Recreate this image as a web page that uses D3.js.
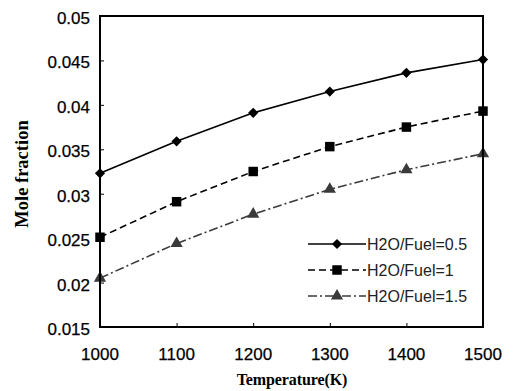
<!DOCTYPE html>
<html>
<head>
<meta charset="utf-8">
<script src="https://cdn.jsdelivr.net/npm/d3@7"></script>
<style>
  body { margin: 0; background: #fff; }
  svg { display: block; }
  .tick-label { font-family: "Liberation Sans", Arial, sans-serif; font-size: 17px; fill: #000; stroke: #000; stroke-width: 0.25px; }
  .legend-text { font-family: "Liberation Sans", Arial, sans-serif; font-size: 16px; fill: #222; }
  .axis-title { font-family: "Liberation Serif", "Times New Roman", serif; font-weight: bold; fill: #000; }
</style>
</head>
<body>
<div id="chart"></div>
<script>
const temperatures = [1000, 1100, 1200, 1300, 1400, 1500];
const ratio05 = [0.0323, 0.0359, 0.0391, 0.0415, 0.0436, 0.0451];
const ratio1 = [0.0251, 0.0291, 0.0325, 0.0353, 0.0375, 0.0393];
const ratio15 = [0.0205, 0.0244, 0.0277, 0.0305, 0.0327, 0.0345];
const seriesNames = ["H2O/Fuel=0.5", "H2O/Fuel=1", "H2O/Fuel=1.5"];
const yTicks = [0.015, 0.02, 0.025, 0.03, 0.035, 0.04, 0.045, 0.05];
const xTicks = [1000, 1100, 1200, 1300, 1400, 1500];

const width = 517;
const height = 391;
const margin = { top: 16, right: 34, bottom: 64, left: 100 };

// diamond = square turned 45 degrees
const series = [
  { name: seriesNames[0], values: ratio05, symbol: d3.symbolSquare, size: 52, rotate: 45, color: "#000", dash: null },
  { name: seriesNames[1], values: ratio1, symbol: d3.symbolSquare, size: 90, rotate: 0, color: "#000", dash: "7,4" },
  { name: seriesNames[2], values: ratio15, symbol: d3.symbolTriangle, size: 65, rotate: 0, color: "#3a3a3a", dash: "9,3,2,3" },
];

const x = d3.scaleLinear()
  .domain([1000, 1500])
  .range([margin.left, width - margin.right]);
const y = d3.scaleLinear()
  .domain([0.015, 0.05])
  .range([height - margin.bottom, margin.top]);

const svg = d3.select("#chart")
  .append("svg")
  .attr("width", width)
  .attr("height", height);

// series lines + markers
const line = d3.line()
  .x((d, i) => x(temperatures[i]))
  .y((d) => y(d));

const seriesG = svg.selectAll(".series")
  .data(series)
  .join("g")
  .attr("class", "series");

seriesG.append("path")
  .attr("fill", "none")
  .attr("stroke", (d) => d.color)
  .attr("stroke-width", 1.6)
  .attr("stroke-dasharray", (d) => d.dash)
  .attr("d", (d) => line(d.values));

seriesG.selectAll(".marker")
  .data((d) => d.values.map((v, i) => ({ v, i, s: d })))
  .join("path")
  .attr("class", "marker")
  .attr("fill", (d) => d.s.color)
  .attr("transform", (d) => `translate(${x(temperatures[d.i])},${y(d.v)}) rotate(${d.s.rotate})`)
  .attr("d", (d) => d3.symbol(d.s.symbol, d.s.size)());

// y axis (ticks inside)
svg.append("g")
  .attr("transform", `translate(${margin.left},0)`)
  .call(d3.axisRight(y).tickValues(yTicks).tickSize(4).tickFormat(""))
  .call((g) => g.select(".domain").remove())
  .call((g) => g.selectAll("line").attr("stroke", "#000").attr("stroke-width", 1));

svg.append("g")
  .selectAll("text")
  .data(yTicks)
  .join("text")
  .attr("class", "tick-label")
  .attr("x", margin.left - 10)
  .attr("y", (d) => y(d) + 2)
  .attr("dy", "0.35em")
  .attr("text-anchor", "end")
  .text((d) => d3.format("")(+d.toFixed(3)));

// x axis (ticks inside)
svg.append("g")
  .attr("transform", `translate(0,${height - margin.bottom})`)
  .call(d3.axisTop(x).tickValues(xTicks).tickSize(4).tickFormat(""))
  .call((g) => g.select(".domain").remove())
  .call((g) => g.selectAll("line").attr("stroke", "#000").attr("stroke-width", 1));

svg.append("g")
  .selectAll("text")
  .data(xTicks)
  .join("text")
  .attr("class", "tick-label")
  .attr("x", (d) => x(d))
  .attr("y", height - margin.bottom + 33)
  .attr("text-anchor", "middle")
  .text((d) => d);

// frame
svg.append("rect")
  .attr("x", margin.left)
  .attr("y", margin.top)
  .attr("width", width - margin.left - margin.right)
  .attr("height", height - margin.top - margin.bottom)
  .attr("fill", "none")
  .attr("stroke", "#000")
  .attr("stroke-width", 2);

// legend
const legend = svg.append("g")
  .selectAll("g")
  .data(series)
  .join("g")
  .attr("transform", (d, i) => `translate(308,${244 + i * 26})`);

legend.append("line")
  .attr("x1", 0)
  .attr("x2", 58)
  .attr("stroke", (d) => d.color)
  .attr("stroke-width", 1.6)
  .attr("stroke-dasharray", (d) => d.dash);

legend.append("path")
  .attr("transform", (d) => `translate(29,0) rotate(${d.rotate})`)
  .attr("fill", (d) => d.color)
  .attr("d", (d) => d3.symbol(d.symbol, d.size)());

legend.append("text")
  .attr("class", "legend-text")
  .attr("x", 59)
  .attr("dy", "0.35em")
  .text((d) => d.name);

// axis titles
svg.append("text")
  .attr("class", "axis-title")
  .attr("x", 292)
  .attr("y", 385)
  .attr("text-anchor", "middle")
  .style("font-size", "16px")
  .style("letter-spacing", "-0.1px")
  .text("Temperature(K)");

svg.append("text")
  .attr("class", "axis-title")
  .attr("transform", "translate(28,174) rotate(-90)")
  .attr("text-anchor", "middle")
  .style("font-size", "18.5px")
  .text("Mole fraction");
</script>
</body>
</html>
